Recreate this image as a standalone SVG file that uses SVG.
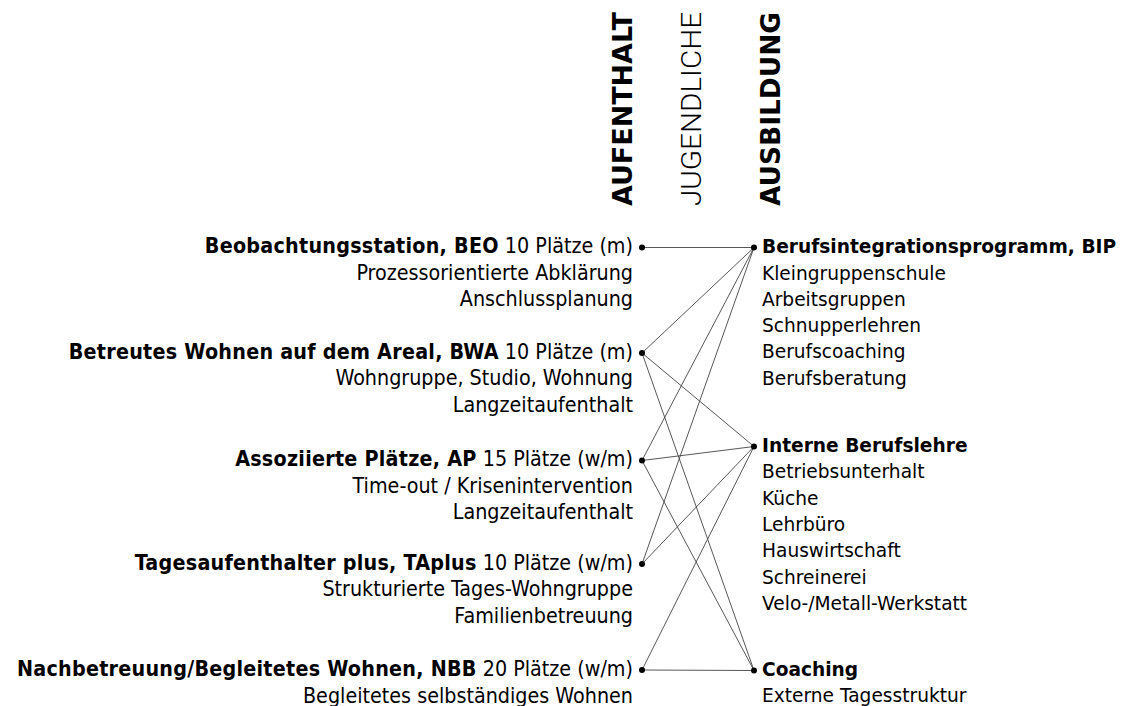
<svg xmlns="http://www.w3.org/2000/svg" width="1133" height="706" viewBox="0 0 1133 706">
<style>
.l{font-family:'DejaVu Sans Condensed','DejaVu Sans',sans-serif;font-stretch:condensed;font-size:21.3px;fill:#000;text-anchor:end}
.r{font-family:'DejaVu Sans','Liberation Sans',sans-serif;font-size:18.6px;fill:#000}
.b{font-weight:bold}
.l .b{letter-spacing:0.25px}
.h{font-family:'DejaVu Sans','Liberation Sans',sans-serif;font-size:26px;font-weight:bold;fill:#000}
.hl{font-family:'Roboto','Liberation Sans',sans-serif;font-size:27px;font-weight:300;fill:#000}
.c line{stroke:#444;stroke-width:0.9}
.d{fill:#000}
</style>
<rect width="1133" height="706" fill="#fff"/>
<g id="headers">
<text class="h" transform="translate(632,206) rotate(-90)" textLength="194" lengthAdjust="spacingAndGlyphs">AUFENTHALT</text>
<text class="hl" transform="translate(701,206) rotate(-90)" textLength="194" lengthAdjust="spacingAndGlyphs">JUGENDLICHE</text>
<text class="h" transform="translate(780,206) rotate(-90)" textLength="194" lengthAdjust="spacingAndGlyphs">AUSBILDUNG</text>
</g>
<g id="connectors" class="c">
<line x1="642" y1="247.5" x2="754" y2="247.5"/>
<line x1="642" y1="353" x2="754" y2="247.5"/>
<line x1="642" y1="353" x2="754" y2="446.5"/>
<line x1="642" y1="353" x2="754" y2="670.5"/>
<line x1="642" y1="460.5" x2="754" y2="247.5"/>
<line x1="642" y1="460.5" x2="754" y2="446.5"/>
<line x1="642" y1="460.5" x2="754" y2="670.5"/>
<line x1="642" y1="564" x2="754" y2="247.5"/>
<line x1="642" y1="564" x2="754" y2="446.5"/>
<line x1="642" y1="670" x2="754" y2="446.5"/>
<line x1="642" y1="670" x2="754" y2="670.5"/>
</g>
<g id="beo">
<circle class="d" cx="642" cy="247.5" r="3"/>
<text class="l" x="633" y="253"><tspan class="b">Beobachtungsstation, BEO</tspan> 10 Plätze (m)</text>
<text class="l" x="633" y="279.5">Prozessorientierte Abklärung</text>
<text class="l" x="633" y="306">Anschlussplanung</text>
</g>
<g id="bwa">
<circle class="d" cx="642" cy="353" r="3"/>
<text class="l" x="633" y="358.5"><tspan class="b">Betreutes Wohnen auf dem Areal, BWA</tspan> 10 Plätze (m)</text>
<text class="l" x="633" y="385">Wohngruppe, Studio, Wohnung</text>
<text class="l" x="633" y="411.5">Langzeitaufenthalt</text>
</g>
<g id="ap">
<circle class="d" cx="642" cy="460.5" r="3"/>
<text class="l" x="633" y="466"><tspan class="b">Assoziierte Plätze, AP</tspan> 15 Plätze (w/m)</text>
<text class="l" x="633" y="492.5">Time-out / Krisenintervention</text>
<text class="l" x="633" y="519">Langzeitaufenthalt</text>
</g>
<g id="taplus">
<circle class="d" cx="642" cy="564" r="3"/>
<text class="l" x="633" y="569.5"><tspan class="b">Tagesaufenthalter plus, TAplus</tspan> 10 Plätze (w/m)</text>
<text class="l" x="633" y="596">Strukturierte Tages-Wohngruppe</text>
<text class="l" x="633" y="622.5">Familienbetreuung</text>
</g>
<g id="nbb">
<circle class="d" cx="642" cy="670" r="3"/>
<text class="l" x="633" y="676"><tspan class="b">Nachbetreuung/Begleitetes Wohnen, NBB</tspan> 20 Plätze (w/m)</text>
<text class="l" x="633" y="702.5">Begleitetes selbständiges Wohnen</text>
</g>
<g id="bip">
<circle class="d" cx="754" cy="247.5" r="3"/>
<text class="r b" x="762" y="253">Berufsintegrationsprogramm, BIP</text>
<text class="r" x="762" y="279.5">Kleingruppenschule</text>
<text class="r" x="762" y="305.5">Arbeitsgruppen</text>
<text class="r" x="762" y="332">Schnupperlehren</text>
<text class="r" x="762" y="358">Berufscoaching</text>
<text class="r" x="762" y="384.5">Berufsberatung</text>
</g>
<g id="interne">
<circle class="d" cx="754" cy="446.5" r="3"/>
<text class="r b" x="762" y="452">Interne Berufslehre</text>
<text class="r" x="762" y="478">Betriebsunterhalt</text>
<text class="r" x="762" y="504.5">Küche</text>
<text class="r" x="762" y="531">Lehrbüro</text>
<text class="r" x="762" y="557">Hauswirtschaft</text>
<text class="r" x="762" y="583.5">Schreinerei</text>
<text class="r" x="762" y="610">Velo-/Metall-Werkstatt</text>
</g>
<g id="coaching">
<circle class="d" cx="754" cy="670.5" r="3"/>
<text class="r b" x="762" y="676">Coaching</text>
<text class="r" x="762" y="702">Externe Tagesstruktur</text>
</g>
</svg>
